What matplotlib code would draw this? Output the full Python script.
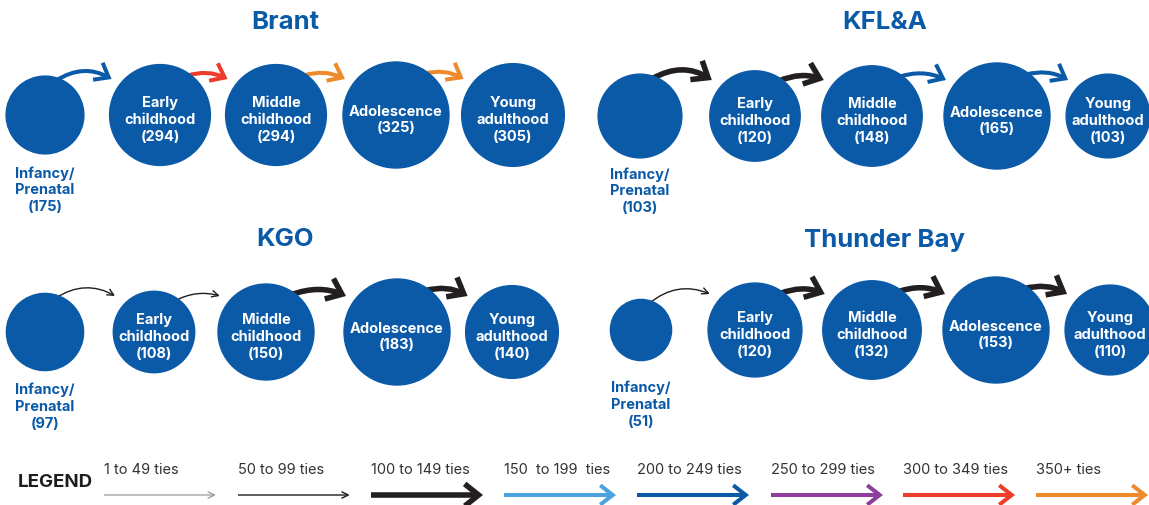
import numpy as np
import matplotlib.pyplot as plt
from matplotlib.patches import Circle, FancyArrowPatch, ArrowStyle

plt.rcParams['font.family'] = ['Inter', 'DejaVu Sans']

# life stages shown in every region
stages = ['Infancy/\nPrenatal', 'Early\nchildhood', 'Middle\nchildhood',
          'Adolescence', 'Young\nadulthood']

# people per stage
brant = [175, 294, 294, 325, 305]
kfla = [103, 120, 148, 165, 103]
kgo = [97, 108, 150, 183, 140]
tbay = [51, 120, 132, 153, 110]

# tie class between neighbouring stages (index into tie_labels)
brant_ties = [4, 6, 7, 7]
kfla_ties = [2, 2, 4, 4]
kgo_ties = [1, 1, 2, 2]
tbay_ties = [1, 2, 2, 2]

tie_labels = ['1 to 49 ties', '50 to 99 ties', '100 to 149 ties',
              '150  to 199  ties', '200 to 249 ties', '250 to 299 ties',
              '300 to 349 ties', '350+ ties']

# styles per tie class: colour, line width, head length, head width
tie_styles = [
    ('#9a9a9a', 0.9, 0.25, 0.12),
    ('#1e1e1e', 1.0, 0.25, 0.12),
    ('#231f20', 4.0, 0.5, 0.4),
    ('#4aa3df', 2.9, 0.45, 0.35),
    ('#0b5aa8', 2.9, 0.45, 0.35),
    ('#8e3d9c', 2.9, 0.45, 0.35),
    ('#ef3b2a', 2.9, 0.45, 0.35),
    ('#ef8a2c', 2.9, 0.45, 0.35),
]

BLUE = '#0b5aa8'
R_MAX = 53

panels = [
    ('Brant', brant, brant_ties, [45, 160, 276, 396, 513], 116, 285, 22),
    ('KFL&A', kfla, kfla_ties, [640, 755, 872, 997, 1108], 117, 885, 22),
    ('KGO', kgo, kgo_ties, [45, 154, 266, 397, 512], 333, 285, 240),
    ('Thunder Bay', tbay, tbay_ties, [641, 755, 872, 996, 1110], 331, 885, 240),
]


def tie_arrow(ax, p0, p1, cls, rad):
    col, lw, hl, hw = tie_styles[cls]
    style = ArrowStyle('->', head_length=hl, head_width=hw)
    arr = FancyArrowPatch(p0, p1, arrowstyle=style, mutation_scale=20,
                          connectionstyle='arc3,rad=%s' % rad,
                          color=col, lw=lw, shrinkA=0, shrinkB=0,
                          joinstyle='miter', capstyle='butt', zorder=1)
    ax.add_patch(arr)


fig = plt.figure(figsize=(11.49, 5.06), dpi=100, facecolor='w')
ax = fig.add_axes([0, 0, 1, 1])
ax.set_xlim(0, 1149)
ax.set_ylim(506, 0)
ax.axis('off')

for name, vals, ties, xs, cy, tx, ty in panels:
    ax.text(tx, ty, name, ha='center', va='center', fontsize=18.5,
            fontweight='bold', color=BLUE)
    vmax = max(vals)
    radii = [R_MAX * np.sqrt(v / vmax) for v in vals]
    for i, (x, v, r) in enumerate(zip(xs, vals, radii)):
        ax.add_patch(Circle((x, cy), r, color=BLUE, zorder=2))
        if i == 0:
            ax.text(x, cy + 74, '%s\n(%d)' % (stages[i], v), ha='center',
                    va='center', fontsize=10.5, fontweight='bold',
                    color=BLUE, linespacing=1.25)
        else:
            ax.text(x, cy + 4, '%s\n(%d)' % (stages[i], v), ha='center',
                    va='center', fontsize=10.5, fontweight='bold',
                    color='white', linespacing=1.25, zorder=3)
    # arrows between neighbouring stages
    for i, cls in enumerate(ties):
        a = np.radians(55 if i else 70)
        p0 = (xs[i] + radii[i] * np.cos(a) - 2, cy - radii[i] * np.sin(a) + 2)
        p1 = (xs[i + 1] - radii[i + 1] + 2, cy - 36)
        tie_arrow(ax, p0, p1, cls, -0.3 if i == 0 else -0.2)

# legend
ax.text(18, 483, 'LEGEND', ha='left', va='center', fontsize=13.5,
        fontweight='bold', color='#1e1e1e')
leg_x = [104, 238, 371, 504, 637, 771, 903, 1036]
for i, (x, lab) in enumerate(zip(leg_x, tie_labels)):
    ax.text(x, 470, lab, ha='left', va='center', fontsize=10.5,
            color='#333333')
    tie_arrow(ax, (x, 496), (x + 112, 496), i, 0.0)

fig.savefig('out.png', dpi=100, facecolor='w')
